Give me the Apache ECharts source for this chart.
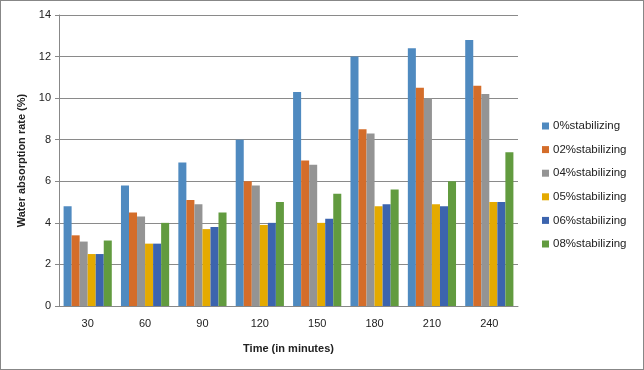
<!DOCTYPE html>
<html>
<head>
<meta charset="utf-8">
<script src="https://cdn.jsdelivr.net/npm/echarts@6/dist/echarts.min.js"></script>
<style>
html, body { margin: 0; padding: 0; background: #fff; }
#chart { width: 642px; height: 368px; border: 1px solid #878787; }
</style>
</head>
<body>
<div id="chart"></div>
<script>
var categories = ['30', '60', '90', '120', '150', '180', '210', '240'];
var seriesNames = ['0%stabilizing', '02%stabilizing', '04%stabilizing',
    '05%stabilizing', '06%stabilizing', '08%stabilizing'];
var s0 = [4.8, 5.8, 6.9, 8.0, 10.3, 12.0, 12.4, 12.8];
var s02 = [3.4, 4.5, 5.1, 6.0, 7.0, 8.5, 10.5, 10.6];
var s04 = [3.1, 4.3, 4.9, 5.8, 6.8, 8.3, 10.0, 10.2];
var s05 = [2.5, 3.0, 3.7, 3.9, 4.0, 4.8, 4.9, 5.0];
var s06 = [2.5, 3.0, 3.8, 4.0, 4.2, 4.9, 4.8, 5.0];
var s08 = [3.15, 4.0, 4.5, 5.0, 5.4, 5.6, 6.0, 7.4];
var colors = ['#4f8ac0', '#d46d2a', '#949494', '#e4aa00', '#3c64ae', '#629b3f'];

var font = 'Liberation Sans, Arial, sans-serif';
var allData = [s0, s02, s04, s05, s06, s08];

var chart = echarts.init(document.getElementById('chart'));
chart.setOption({
    animation: false,
    color: colors,
    textStyle: { fontFamily: font },
    grid: { left: 58, right: 125, top: 14, bottom: 63 },
    legend: {
        orient: 'vertical',
        left: 536,
        top: 114,
        icon: 'rect',
        itemWidth: 7,
        itemHeight: 7,
        itemGap: 11.6,
        textStyle: { fontSize: 11.5, color: '#222', fontFamily: font, padding: [0, 0, 0, -1] },
        data: seriesNames
    },
    xAxis: {
        type: 'category',
        data: categories,
        name: 'Time (in minutes)',
        nameLocation: 'middle',
        nameGap: 37,
        nameTextStyle: { fontWeight: 'bold', fontSize: 11, color: '#222' },
        axisLine: { lineStyle: { color: '#888' } },
        axisTick: { show: false },
        axisLabel: { color: '#222', fontSize: 11, margin: 12 }
    },
    yAxis: {
        type: 'value',
        min: 0,
        max: 14,
        interval: 2,
        name: 'Water absorption rate (%)',
        nameLocation: 'middle',
        nameGap: 30,
        nameTextStyle: { fontWeight: 'bold', fontSize: 11, color: '#222' },
        axisLine: { show: true, lineStyle: { color: '#888' } },
        axisTick: { show: true, length: 4, lineStyle: { color: '#888' } },
        axisLabel: { color: '#222', fontSize: 11, margin: 8 },
        splitLine: { lineStyle: { color: '#8a8a8a' } }
    },
    series: seriesNames.map(function (name, i) {
        return {
            name: name,
            type: 'bar',
            data: allData[i],
            barGap: '0%',
            barCategoryGap: '16%'
        };
    })
});
</script>
</body>
</html>
